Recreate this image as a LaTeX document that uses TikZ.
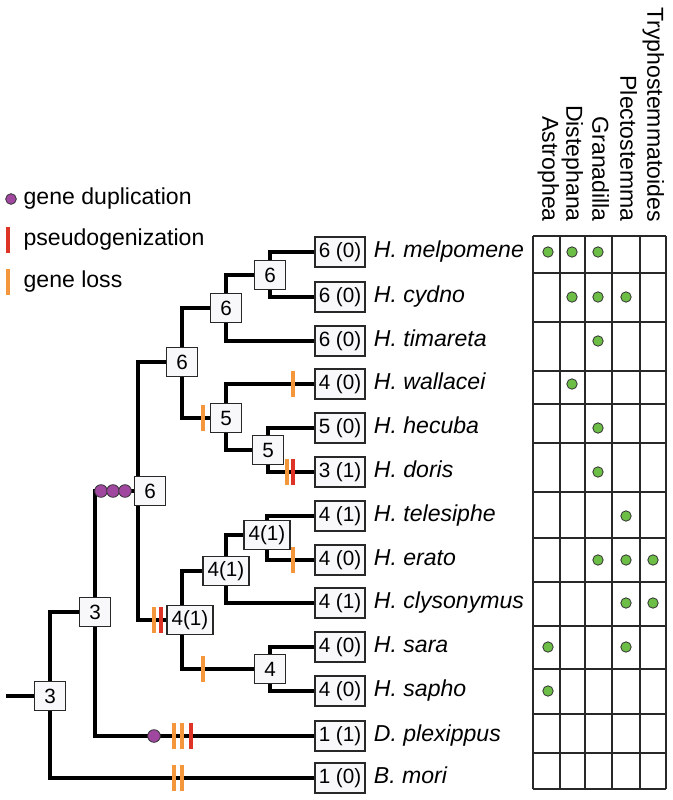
\documentclass[tikz,border=0pt]{standalone}
\usepackage{fontspec}
\setmainfont{Liberation Sans}
\usepackage{tikz}
\usetikzlibrary{positioning}
\definecolor{dupcol}{RGB}{160,72,160}
\definecolor{pseudocol}{RGB}{222,52,38}
\definecolor{losscol}{RGB}{243,150,60}
\definecolor{hostcol}{RGB}{108,190,70}
\definecolor{boxfill}{RGB}{248,248,251}
\definecolor{edgecol}{RGB}{40,40,40}
\pgfdeclarelayer{bg}
\pgfsetlayers{bg,main}

\begin{document}
\begin{tikzpicture}[
            x=0.75pt, y=-0.75pt,
            count/.style={rectangle, draw=edgecol, line width=1pt, fill=boxfill, minimum width=23pt, minimum height=21.75pt, inner xsep=3.5pt, inner ysep=0pt, font=\fontsize{15.5}{18}\selectfont},
            tip/.style={count, minimum width=37.5pt, minimum height=22.5pt, inner xsep=2.5pt},
            taxon/.style={inner sep=0pt, text height=12.5pt, text depth=4pt, font=\fontsize{17.3}{20}\selectfont\itshape},
            genus/.style={anchor=east, rotate=-90, inner sep=0pt, text height=12.5pt, text depth=4pt, font=\fontsize{17.3}{20}\selectfont},
            key/.style={inner sep=0pt, text height=12.5pt, text depth=4pt, font=\fontsize{17.3}{20}\selectfont},
            branch/.style={line width=2.3pt, black},
            tabline/.style={line width=1.1pt, edgecol},
            dup/.style={circle, draw=black!80, line width=0.6pt, fill=dupcol, minimum size=9.5pt, inner sep=0pt},
            pseudo/.style={rectangle, fill=pseudocol, minimum width=2.6pt, minimum height=19pt, inner sep=0pt},
            loss/.style={pseudo, fill=losscol},
            host/.style={circle, draw=black!80, line width=0.6pt, fill=hostcol, minimum size=7.8pt, inner sep=0pt}
        ]
            \useasboundingbox (0,0) rectangle (673,800);

            \node[dup, minimum size=8pt] (kdup) at (11,199) {};
            \node[key, right=5pt of kdup]  (kduptxt) {gene duplication};
            \node[pseudo] (kpse) at (8,240) {};
            \node[key, right=10pt of kpse] (kpsetxt) {pseudogenization};
            \node[loss] (klos) at (8,282) {};
            \node[key, right=10pt of klos] (klostxt) {gene loss};

            \node[tip] (mel) at (340,252) {6 (0)};
            \node[tip] (cyd) at (340,297) {6 (0)};
            \node[tip] (tim) at (340,341) {6 (0)};
            \node[tip] (wal) at (340,384) {4 (0)};
            \node[tip] (hec) at (340,428) {5 (0)};
            \node[tip] (dor) at (340,472) {3 (1)};
            \node[tip] (tel) at (340,516) {4 (1)};
            \node[tip] (era) at (340,560) {4 (0)};
            \node[tip] (cly) at (340,603) {4 (1)};
            \node[tip] (sar) at (340,647) {4 (0)};
            \node[tip] (sap) at (340,691) {4 (0)};
            \node[tip] (plx) at (340,736) {1 (1)};
            \node[tip] (mor) at (340,778) {1 (0)};

            \node[taxon, right=6pt of mel] (melname) {H. melpomene};
            \node[taxon, right=6pt of cyd] (cydname) {H. cydno};
            \node[taxon, right=6pt of tim] (timname) {H. timareta};
            \node[taxon, right=6pt of wal] (walname) {H. wallacei};
            \node[taxon, right=6pt of hec] (hecname) {H. hecuba};
            \node[taxon, right=6pt of dor] (dorname) {H. doris};
            \node[taxon, right=6pt of tel] (telname) {H. telesiphe};
            \node[taxon, right=6pt of era] (eraname) {H. erato};
            \node[taxon, right=6pt of cly] (clyname) {H. clysonymus};
            \node[taxon, right=6pt of sar] (sarname) {H. sara};
            \node[taxon, right=6pt of sap] (sapname) {H. sapho};
            \node[taxon, right=6pt of plx] (plxname) {D. plexippus};
            \node[taxon, right=6pt of mor] (morname) {B. mori};

            \node[count] (nA) at (270,275) {6};
            \node[count] (nB) at (226,308) {6};
            \node[count] (nC) at (182,362) {6};
            \node[count] (nD) at (226,418) {5};
            \node[count] (nE) at (268,450) {5};
            \node[count] (nF) at (267,535) {4(1)};
            \node[count] (nG) at (226,571) {4(1)};
            \node[count] (nH) at (190,620) {4(1)};
            \node[count] (nI) at (270,669) {4};
            \node[count] (nJ) at (150,491) {6};
            \node[count] (nK) at (95,612)  {3};
            \node[count] (nR) at (50,696)  {3};
            \coordinate (stem) at (6,696);

            \begin{pgfonlayer}{bg}
            \draw[branch] (nA) |- (mel);
            \draw[branch] (nA) |- (cyd);
            \draw[branch] (nB) |- (nA);
            \draw[branch] (nB) |- (tim);
            \draw[branch] (nC) |- (nB);
            \draw[branch] (nC) |- (nD);
            \draw[branch] (nD) |- (wal);
            \draw[branch] (nD) |- (nE);
            \draw[branch] (nE) |- (hec);
            \draw[branch] (nE) |- (dor);
            \draw[branch] (nF) |- (tel);
            \draw[branch] (nF) |- (era);
            \draw[branch] (nG) |- (nF);
            \draw[branch] (nG) |- (cly);
            \draw[branch] ([xshift=-6pt]nH.center) |- (nG);
            \draw[branch] ([xshift=-6pt]nH.center) |- (nI);
            \draw[branch] (nI) |- (sar);
            \draw[branch] (nI) |- (sap);
            \draw[branch] ([xshift=-9pt]nJ.center) |- (nC);
            \draw[branch] ([xshift=-9pt]nJ.center) |- (nH);
            \draw[branch] (nK) |- (nJ);
            \draw[branch] (nK) |- (plx);
            \draw[branch] (nR) |- (nK);
            \draw[branch] (nR) |- (mor);
            \draw[branch] (stem) -- (nR);
            \end{pgfonlayer}

            \node[dup] (d1) at (101,491) {};
            \node[dup] (d2) at (113,491) {};
            \node[dup] (d3) at (125,491) {};
            \node[dup] (d4) at (154,736) {};
            \node[loss]   (x1)  at (174,736) {};
            \node[loss]   (x2)  at (182,736) {};
            \node[pseudo] (p1)  at (191,736) {};
            \node[loss]   (x3)  at (174,778) {};
            \node[loss]   (x4)  at (182,778) {};
            \node[loss]   (x5)  at (203,418) {};
            \node[loss]   (x6)  at (293,384) {};
            \node[loss]   (x7)  at (287,472) {};
            \node[pseudo] (p2)  at (293,472) {};
            \node[loss]   (x8)  at (154,620) {};
            \node[pseudo] (p3)  at (161,620) {};
            \node[loss]   (x9)  at (293,560) {};
            \node[loss]   (x10) at (203,669) {};

            \foreach \tx in {533,560,585,612,640,666}
                \draw[tabline] (\tx,236) -- (\tx,789);
            \foreach \ty in {236,273,322,371,404,443,492,538,582,626,669,714,753,789}
                \draw[tabline] (533,\ty) -- (666,\ty);

            \node[genus] (ast) at (548,222) {Astrophea};
            \node[genus] (dis) at (572,222) {Distephana};
            \node[genus] (gra) at (598,222) {Granadilla};
            \node[genus] (ple) at (626,222) {Plectostemma};
            \node[genus] (try) at (653,222) {Tryphostemmatoides};

            \foreach \hx/\hy [count=\i] in {548/252, 572/252, 598/252, 572/297, 598/297, 626/297, 598/341, 572/384, 598/428, 598/472, 626/516, 598/560, 626/560, 653/560, 626/603, 653/603, 548/647, 626/647, 548/691}
                \node[host] (h\i) at (\hx,\hy) {};
        \end{tikzpicture}
\end{document}
